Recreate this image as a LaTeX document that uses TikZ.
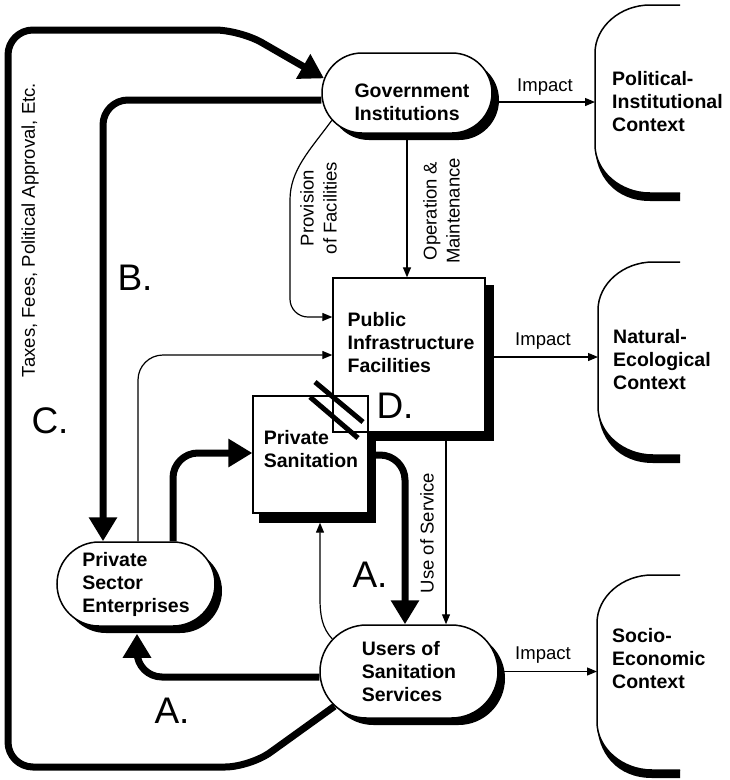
\documentclass[tikz,border=0pt]{standalone}
\usepackage{fontspec}
\setmainfont{Liberation Sans}
\usetikzlibrary{arrows.meta,shapes.misc,shadows,calc}
\pgfdeclarelayer{background}
\pgfsetlayers{background,main}
\begin{document}
\begin{tikzpicture}[x=1pt,y=-1pt,
  stad/.style={rounded rectangle, draw, line width=1.5pt, fill=white, inner sep=0pt,
    drop shadow={shadow xshift=7pt,shadow yshift=-7pt,opacity=1,fill=black}},
  boxnode/.style={draw, line width=1.3pt, inner sep=0pt},
  nodetxt/.style={font=\bfseries\fontsize{19.5}{23}\selectfont, align=left, inner sep=0pt},
  lab/.style={font=\fontsize{18.5}{23}\selectfont, align=center, inner sep=0pt},
  big/.style={font=\fontsize{37}{40}\selectfont, inner sep=0pt},
  thickarrow/.style={line width=7pt, -{Triangle[width=27pt,length=24pt]}},
  thinarrow/.style={line width=1.2pt, -{Triangle[width=8pt,length=10pt]}},
  ctx/.style={line width=1.5pt}
  ]
\useasboundingbox (0,0) rectangle (730,780);

% ---- rectangular boxes ----
\node[boxnode, minimum width=152pt, minimum height=154pt] (pub) at (409,355) {};
\node[boxnode, minimum width=115pt, minimum height=117pt] (priv) at (310.5,454.5) {};
\begin{pgfonlayer}{background}
  \fill[black] ([shift={(7pt,-9pt)}]priv.south west) rectangle ([shift={(7pt,-9pt)}]priv.north east);
  \fill[black] ([shift={(8pt,-8pt)}]pub.south west) rectangle ([shift={(8pt,-8pt)}]pub.north east);
  \fill[white] (pub.south west) rectangle (pub.north east);
  \fill[white] (priv.south west) rectangle (priv.north east);
\end{pgfonlayer}
\node[nodetxt] (pubt) at (411,342.5) {Public\\Infrastructure\\Facilities};
\node[nodetxt] (privt) at (311,449.5) {Private\\Sanitation};

% ---- rounded nodes ----
\node[stad, minimum width=170pt, minimum height=80pt] (gov) at (407,93) {};
\node[nodetxt] (govt) at (412,102.5) {Government\\Institutions};
\node[stad, nodetxt, minimum width=158pt, minimum height=84pt] (pse) at (136,584) {Private\\Sector\\Enterprises};
\node[stad, nodetxt, minimum width=178pt, minimum height=93pt] (users) at (409,671.5) {Users of\\Sanitation\\Services};

% ---- context shapes ----
\draw[ctx] (680,5) -- (650,5) .. controls (620,5) and (595,27) .. (595,53) -- (595,145)
  .. controls (595,171) and (620,193) .. (650,193) -- (680,193);
\fill (595,145) .. controls (595,171) and (620,193) .. (650,193) -- (680,193) -- (680,201)
  -- (650,201) .. controls (615,201) and (595,176) .. (595,145) -- cycle;
\draw[ctx] (680,262) -- (653,262) .. controls (623,262) and (598,284) .. (598,310) -- (598,407)
  .. controls (598,433) and (623,455) .. (653,455) -- (680,455);
\fill (598,407) .. controls (598,433) and (623,455) .. (653,455) -- (680,455) -- (680,463)
  -- (653,463) .. controls (618,463) and (598,438) .. (598,407) -- cycle;
\draw[ctx] (680,575) -- (652,575) .. controls (622,575) and (597,597) .. (597,623) -- (597,722)
  .. controls (597,748) and (622,770) .. (652,770) -- (680,770);
\fill (597,722) .. controls (597,748) and (622,770) .. (652,770) -- (680,770) -- (680,778)
  -- (652,778) .. controls (617,778) and (597,753) .. (597,722) -- cycle;

\node[nodetxt, anchor=west] (pol) at (612,101.5) {Political-\\Institutional\\Context};
\node[nodetxt, anchor=west] (nat) at (613,359.5) {Natural-\\Ecological\\Context};
\node[nodetxt, anchor=west] (soc) at (612,658.5) {Socio-\\Economic\\Context};
\coordinate (polL) at (595,102);
\coordinate (natL) at (598,357);
\coordinate (socL) at (597,671.5);

% ---- impact arrows ----
\draw[thinarrow] ([yshift=-9pt]gov.east) -- (polL);
\draw[thinarrow] (pub.east |- natL) -- (natL);
\draw[thinarrow] (users.east) -- (socL);
\node[lab] (imp1) at (545,87) {Impact};
\node[lab] (imp2) at (543,341) {Impact};
\node[lab] (imp3) at (543,655) {Impact};

% ---- thin connectors ----
\draw[thinarrow] (gov.200) .. controls (310,150) and (290,170) .. (290,200)
  [rounded corners=18pt] -- (290,317) -- (pub.west |- 0,317);
\draw[thinarrow] (gov.south) -- (pub.north -| gov.south);
\draw[thinarrow, rounded corners=25pt] (pse.north -| 138,0) -- (138,355) -- (pub.west |- 0,355);
\draw[thinarrow] (pub.south -| 446,0) -- (users.north -| 446,0);
\coordinate (privSh) at ([yshift=-9pt]priv.south);
\draw[thinarrow] (users.157) .. controls (322,628) and (320,615) .. (320,598) -- (privSh -| 320,0);

\node[lab, rotate=90] (prov) at (318.5,208) {Provision\\of Facilities};
\node[lab, rotate=90] (opm) at (441.5,211) {Operation \&\\Maintenance};
\node[lab, rotate=90] (use) at (427,533) {Use of Service};
\node[lab, rotate=90] (tax) at (30,230) {Taxes, Fees, Political Approval, Etc.};

% ---- thick connectors ----
\draw[thickarrow, rounded corners=25pt] (users.205) -- (250,767) -- (8,767) -- (8,30) -- (240,30) -- (gov.170);
\draw[thickarrow, rounded corners=25pt] ([yshift=-7pt]gov.west) -- (103,100) -- (pse.north -| 103,0);
\draw[thickarrow, rounded corners=25pt] (pse.north -| 173,0) -- (173,453) -- (priv.west |- 0,453);
\draw[thickarrow, rounded corners=25pt] (priv.east |- 0,455) -- (405,455) -- (users.north -| 405,0);
\coordinate (pseSh) at ([yshift=-7pt]pse.south);
\draw[thickarrow, rounded corners=25pt] ([yshift=-5.5pt]users.west) -- (137,677) -- (pseSh -| 137,0);

% ---- hatch (break) marks ----
\draw[line width=5pt] (315,382) -- (363,422);
\draw[line width=5pt] (310,397) -- (358,438);

% ---- letters ----
\node[big] (la1) at (370,575) {A.};
\node[big] (la2) at (172,711) {A.};
\node[big] (lb) at (135,278) {B.};
\node[big] (lc) at (50,421) {C.};
\node[big] (ld) at (395,406) {D.};
\end{tikzpicture}
\end{document}
